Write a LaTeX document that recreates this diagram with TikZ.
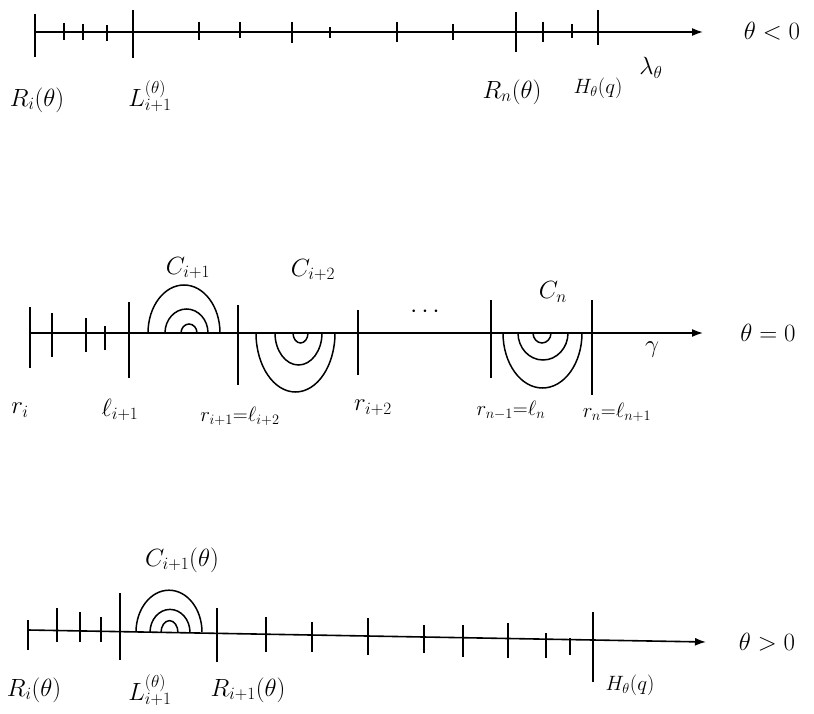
\documentclass[tikz,border=0pt]{standalone}
\usetikzlibrary{arrows.meta}
\begin{document}
\begin{tikzpicture}[x=1pt,y=-1pt,
  axis/.style={line width=1.6pt,-{Latex[length=11pt,width=8pt]}},
  tk/.style={line width=1.5pt},
  arcl/.style={line width=1.5pt},
  lab/.style={inner sep=0pt,font=\fontsize{26}{30}\selectfont},
  mid/.style={inner sep=0pt,font=\fontsize{22}{26}\selectfont},
  big/.style={inner sep=0pt,font=\fontsize{27}{32}\selectfont}]
\useasboundingbox (0,0) rectangle (814,714);
% ---------- top axis (theta<0)
\coordinate (a1s) at (35,32);
\coordinate (a1e) at (703,32);
\draw[axis] (a1s) -- (a1e);
\foreach \x/\ya/\yb in {35/14/57,133/10/58,516/12/52,598/10/45,
  64/23/40,83/24/40,107/25/41,199/22/40,240/22/38,292/22/43,330/27/38,397/22/42,453/24/40,543/22/42,572/24/38}
  \draw[tk] (\x,\ya) -- (\x,\yb);
\node[lab] (t1) at (37,100) {$R_i(\theta)$};
\node[lab] (t2) at (150,96) {$L_{i+1}^{(\theta)}$};
\node[lab] (t3) at (512,92) {$R_n(\theta)$};
\node[mid] (t4) at (598,88) {$H_\theta(q)$};
\node[lab] (t5) at (651,68) {$\lambda_\theta$};
\node[big] (t6) at (772,31) {$\theta<0$};
% ---------- middle axis (theta=0)
\coordinate (a2s) at (30,333);
\coordinate (a2e) at (703,333);
\draw[axis] (a2s) -- (a2e);
\foreach \x/\ya/\yb in {30/307/368,52/313/357,86/318/352,105/326/350,129/302/378,238/305/385,358/310/375,491/300/378,592/300/395}
  \draw[tk] (\x,\ya) -- (\x,\yb);
% C_{i+1} above
\draw[arcl] (148,333) arc[start angle=180,end angle=0,x radius=36,y radius=-48];
\draw[arcl] (165,333) arc[start angle=180,end angle=0,x radius=21.5,y radius=-24];
\draw[arcl] (181,333) arc[start angle=180,end angle=0,x radius=8,y radius=-9];
% C_{i+2} below
\draw[arcl] (256,333) arc[start angle=180,end angle=360,x radius=39.5,y radius=-59];
\draw[arcl] (275,333) arc[start angle=180,end angle=360,x radius=23.5,y radius=-32];
\draw[arcl] (293,333) arc[start angle=180,end angle=360,x radius=7.5,y radius=-10];
% C_n below
\draw[arcl] (503,333) arc[start angle=180,end angle=360,x radius=39.5,y radius=-55];
\draw[arcl] (518,333) arc[start angle=180,end angle=360,x radius=25,y radius=-27];
\draw[arcl] (533,333) arc[start angle=180,end angle=360,x radius=9,y radius=-10];
\node[lab] (m1) at (188,268) {$C_{i+1}$};
\node[lab] (m2) at (313,270) {$C_{i+2}$};
\node[lab] (m3) at (553,292) {$C_n$};
\node[lab] (m4) at (425,312) {$\cdots$};
\node[lab] (m5) at (652,350) {$\gamma$};
\node[big] (m6) at (768,333) {$\theta=0$};
\node[lab] (m7) at (20,410) {$r_i$};
\node[lab] (m8) at (120,410) {$\ell_{i+1}$};
\node[mid] (m9) at (240,416) {$r_{i+1}{=}\ell_{i+2}$};
\node[lab] (m10) at (373,408) {$r_{i+2}$};
\node[mid] (m11) at (511,410) {$r_{n-1}{=}\ell_n$};
\node[mid] (m12) at (617,412) {$r_n{=}\ell_{n+1}$};
% ---------- bottom axis (theta>0)
\coordinate (a3s) at (28,630);
\coordinate (a3e) at (706,642);
\draw[axis] (a3s) -- (a3e);
\foreach \x/\ya/\yb in {28/620/650,57/608/642,80/612/642,101/617/642,120/593/660,217/608/662,266/617/652,312/622/652,368/618/655,424/625/653,463/625/657,508/623/658,546/633/658,570/638/655,593/612/682}
  \draw[tk] (\x,\ya) -- (\x,\yb);
\draw[arcl] (136,632.2) arc[start angle=180,end angle=0,x radius=33,y radius=-42];
\draw[arcl] (150,632.4) arc[start angle=180,end angle=0,x radius=20,y radius=-23];
\draw[arcl] (161,632.6) arc[start angle=180,end angle=0,x radius=8.5,y radius=-12];
\node[lab] (b1) at (182,560) {$C_{i+1}(\theta)$};
\node[lab] (b2) at (34,690) {$R_i(\theta)$};
\node[lab] (b3) at (150,690) {$L_{i+1}^{(\theta)}$};
\node[lab] (b4) at (248,690) {$R_{i+1}(\theta)$};
\node[mid] (b5) at (630,685) {$H_\theta(q)$};
\node[big] (b6) at (767,642) {$\theta>0$};
\end{tikzpicture}
\end{document}
